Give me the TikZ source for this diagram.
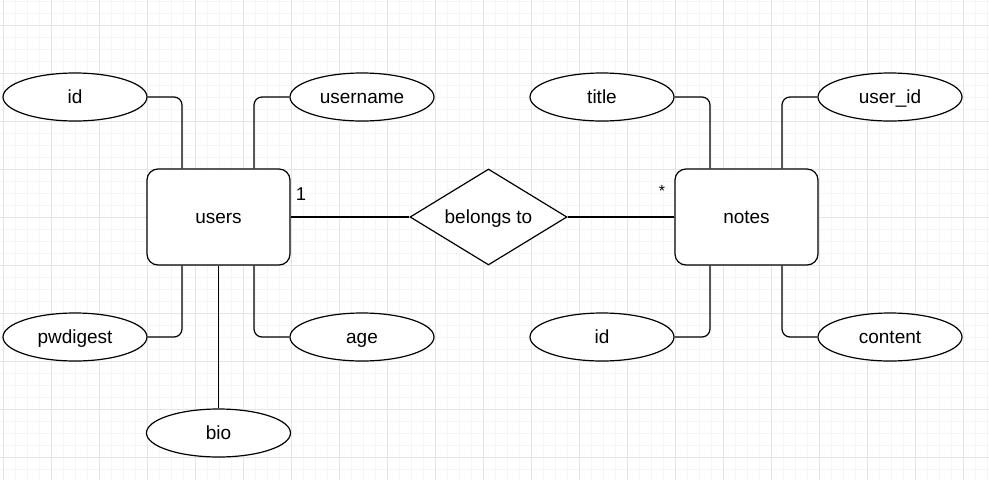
\documentclass[tikz,border=0pt]{standalone}
\usepackage{fontspec}
\setmainfont{Liberation Sans}
\usetikzlibrary{shapes.geometric}
\definecolor{gridminor}{RGB}{245,245,245}
\definecolor{gridmajor}{RGB}{228,228,228}
\tikzset{
  lbl/.style={font=\fontsize{19}{22}\selectfont, text height=16.6pt, text depth=4pt},
  entity/.style={draw, line width=1.2pt, rounded corners=11pt, minimum width=143pt, minimum height=96pt, inner sep=0pt, fill=white, lbl},
  attr/.style={draw, line width=1.2pt, ellipse, minimum width=144pt, minimum height=48pt, inner sep=0pt, fill=white, lbl},
  rel/.style={draw, line width=1.2pt, diamond, shape aspect=1.635, minimum width=157pt, minimum height=96pt, inner sep=0pt, fill=white, lbl},
  link/.style={line width=1.2pt, rounded corners=8pt},
  card/.style={inner sep=0pt, font=\fontsize{18.5}{20}\selectfont}
}
\begin{document}
\begin{tikzpicture}[x=1pt,y=-1pt]
\useasboundingbox (0,0) rectangle (989,480);
\fill[white] (0,0) rectangle (989,480);
% grid
\foreach \gx in {3,15,...,987} \draw[gridminor, line width=0.8pt] (\gx,0) -- (\gx,480);
\foreach \gy in {1,13,...,479} \draw[gridminor, line width=0.8pt] (0,\gy) -- (989,\gy);
\foreach \gx in {3,51,...,987} \draw[gridmajor, line width=0.8pt] (\gx,0) -- (\gx,480);
\foreach \gy in {25,73,...,479} \draw[gridmajor, line width=0.8pt] (0,\gy) -- (989,\gy);

% entities
\node[entity] (users) at (218.5,217) {users};
\node[entity] (notes) at (746.5,217) {notes};
\node[rel] (belongs) at (488.5,217) {belongs to};

% attributes
\node[attr] (uid) at (75,97) {id};
\node[attr] (uname) at (362,97) {username};
\node[attr] (upwd) at (75,337) {pwdigest};
\node[attr] (uage) at (362,337) {age};
\node[attr] (ubio) at (218.5,433) {bio};
\node[attr] (ntitle) at (602,97) {title};
\node[attr] (nuser) at (890,97) {user\_id};
\node[attr] (nid) at (602,337) {id};
\node[attr] (ncontent) at (890,337) {content};

% connectors
\draw[link] (uid.east) -| ([xshift=-36.5pt]users.north);
\draw[link] (uname.west) -| ([xshift=35.5pt]users.north);
\draw[link] (upwd.east) -| ([xshift=-36.5pt]users.south);
\draw[link] (uage.west) -| ([xshift=35.5pt]users.south);
\draw[link] (ubio.north) -- (users.south);
\draw[link] (ntitle.east) -| ([xshift=-36.5pt]notes.north);
\draw[link] (nuser.west) -| ([xshift=35.5pt]notes.north);
\draw[link] (nid.east) -| ([xshift=-36.5pt]notes.south);
\draw[link] (ncontent.west) -| ([xshift=35.5pt]notes.south);
\draw[link] (users.east) -- (belongs.west);
\draw[link] (belongs.east) -- (notes.west);

% cardinalities
\node[card] (c1) at (301,194) {1};
\node[card, font=\fontsize{16}{18}\selectfont] (cn) at (662,191) {*};
\end{tikzpicture}
\end{document}
